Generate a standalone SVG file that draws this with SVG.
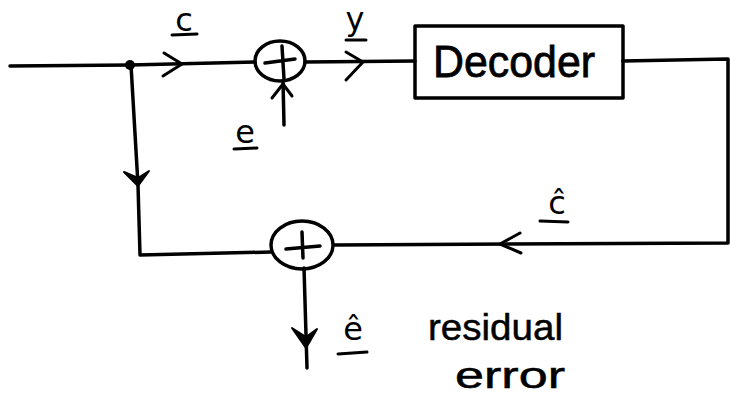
<svg xmlns="http://www.w3.org/2000/svg" width="730" height="398" viewBox="0 0 730 398">
<style>
.ln{fill:none;stroke:#000;stroke-width:3.5;stroke-linecap:round;stroke-linejoin:round}
.ah{fill:none;stroke:#000;stroke-width:3;stroke-linecap:round;stroke-linejoin:round}
.fh{fill:#000;stroke:#000;stroke-width:2;stroke-linejoin:round}
.lbl{font-family:"DejaVu Sans","Liberation Sans",sans-serif;font-size:32px;fill:#000}
.big{font-family:"Liberation Sans","DejaVu Sans",sans-serif;font-size:44px;fill:#000;stroke:#000;stroke-width:0.8}
.note{font-family:"Liberation Sans","DejaVu Sans",sans-serif;font-size:36px;fill:#000;stroke:#000;stroke-width:0.5}
.ul{stroke:#000;stroke-width:3;stroke-linecap:round}
</style>
<rect width="730" height="398" fill="#fff"/>
<g id="connectors">
  <path class="ln" d="M10 66 L130 65 L255 62"/>
  <path class="ah" d="M164 53 L182 64 L163 76"/>
  <path class="ln" d="M284 125 L283 81"/>
  <path class="ah" d="M272 98 L283 84 L292 96"/>
  <path class="ln" d="M305 62 L415 61"/>
  <path class="ah" d="M346 52 L363 62 L346 80"/>
  <path class="ln" d="M623 61 L728 59 L728 243 L334 245"/>
  <path class="ah" d="M520 233 L500 244 L521 253"/>
  <path class="ln" d="M131 65 L138 185 L140 255 L271 252"/>
  <path class="fh" d="M124 172 L138 186 L149 171 L138 178 Z"/>
  <path class="ln" d="M304 268 L307 368"/>
  <path class="fh" d="M292 328 L306 348 L317 329 L306 337 Z"/>
  <circle cx="130" cy="65" r="5" fill="#000"/>
</g>
<g id="adder1">
  <ellipse class="ln" cx="280" cy="61" rx="25" ry="20"/>
  <path class="ln" d="M265 63 L295 59 M282 46 L284 79"/>
</g>
<g id="decoder">
  <rect class="ln" x="415" y="26" width="208" height="72"/>
  <text class="big" x="514" y="77" text-anchor="middle" textLength="162" lengthAdjust="spacingAndGlyphs">Decoder</text>
</g>
<g id="adder2">
  <ellipse class="ln" cx="302" cy="245" rx="31" ry="24"/>
  <path class="ln" d="M286 249 L320 246 M302 232 L303 258"/>
</g>
<g id="labels">
  <text class="lbl" x="184" y="31" text-anchor="middle">c</text>
  <line class="ul" x1="172" y1="35" x2="197" y2="34"/>
  <text class="lbl" x="355" y="30" text-anchor="middle">y</text>
  <line class="ul" x1="346" y1="40" x2="366" y2="40"/>
  <text class="lbl" x="245" y="143" text-anchor="middle">e</text>
  <line class="ul" x1="234" y1="149" x2="257" y2="148"/>
  <text class="lbl" x="557" y="214" text-anchor="middle">ĉ</text>
  <line class="ul" x1="540" y1="221" x2="568" y2="222"/>
  <text class="lbl" x="353" y="340" text-anchor="middle">ê</text>
  <line class="ul" x1="338" y1="354" x2="367" y2="352"/>
  <text class="note" x="428" y="340" textLength="135" lengthAdjust="spacingAndGlyphs">residual</text>
  <text class="note" x="455" y="388" font-size="40" textLength="110" lengthAdjust="spacingAndGlyphs">error</text>
</g>
</svg>
